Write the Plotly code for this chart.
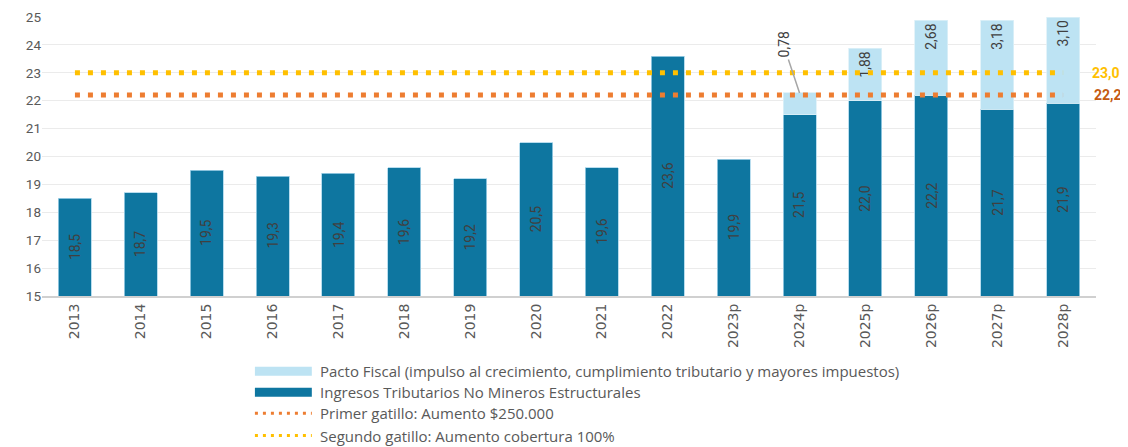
import plotly.graph_objects as go

categories = ["2013", "2014", "2015", "2016", "2017", "2018", "2019", "2020", "2021", "2022",
              "2023p", "2024p", "2025p", "2026p", "2027p", "2028p"]
ingresos = [18.5, 18.7, 19.5, 19.3, 19.4, 19.6, 19.2, 20.5, 19.6, 23.6,
            19.9, 21.5, 22.0, 22.2, 21.7, 21.9]
pacto = [None, None, None, None, None, None, None, None, None, None,
         None, 0.78, 1.88, 2.68, 3.18, 3.10]
primer_gatillo = [22.2] * len(categories)
segundo_gatillo = [23.0] * len(categories)
y_range = [15, 25]

legend_labels = [
    "Pacto Fiscal (impulso al crecimiento, cumplimiento tributario y mayores impuestos)",
    "Ingresos Tributarios No Mineros Estructurales",
    "Primer gatillo: Aumento $250.000",
    "Segundo gatillo: Aumento cobertura 100%",
]

DARK = "#0E76A0"
LIGHT = "#BDE3F3"
ORANGE = "#ED7D31"
YELLOW = "#FFC000"
FONT = "Roboto, Arial"
TXT = "#404040"

def fmt(v, d):
    return f"{v:.{d}f}".replace(".", ",")

fig = go.Figure()
fig.add_trace(go.Bar(
    x=categories, y=ingresos, name=legend_labels[1], marker_color=DARK,
    marker_line=dict(color="#A8D5EA", width=0.8), width=0.5,
    textposition="none", showlegend=False))

pacto_text = [("" if v is None else fmt(v, 2)) for v in pacto]
pacto_pos = ["none" if (v is None or v < 1) else "inside" for v in pacto]
fig.add_trace(go.Bar(
    x=categories, y=pacto, name=legend_labels[0], marker_color=LIGHT,
    marker_line=dict(color="#DDF0F8", width=0.8), width=0.5,
    text=pacto_text, textposition=pacto_pos, insidetextanchor="end",
    textangle=-90, constraintext="none", textfont=dict(color=TXT, size=14, family=FONT),
    showlegend=False))

fig.add_trace(go.Scatter(
    x=categories, y=primer_gatillo, mode="lines", name=legend_labels[2],
    line=dict(color=ORANGE, width=5, dash="5px,8px"), showlegend=False))
fig.add_trace(go.Scatter(
    x=categories, y=segundo_gatillo, mode="lines", name=legend_labels[3],
    line=dict(color=YELLOW, width=5, dash="5px,8px"), showlegend=False))

# labels of the dark bars, centred on the visible part of each bar (x = category index)
for i, v in enumerate(ingresos):
    fig.add_annotation(x=i, y=(y_range[0] + v) / 2, text=fmt(v, 1), textangle=-90,
                       showarrow=False, yanchor="middle",
                       font=dict(color=TXT, size=14, family=FONT))

# small outside label with leader line
for i, (base, v) in enumerate(zip(ingresos, pacto)):
    if v is not None and v < 1:
        fig.add_annotation(x=i, y=base + v, text=fmt(v, 2), textangle=-90,
                           showarrow=True, arrowhead=0, arrowwidth=1.5, arrowcolor="#A6A6A6",
                           ax=-16, ay=-48, font=dict(color=TXT, size=14, family=FONT))

# right-side labels of the thresholds
fig.add_annotation(xref="paper", x=1.0, xanchor="left", xshift=-6, y=segundo_gatillo[-1],
                   text=f"<b>{fmt(segundo_gatillo[-1], 1)}</b>", showarrow=False,
                   font=dict(color=YELLOW, size=14, family=FONT))
fig.add_annotation(xref="paper", x=1.0, xanchor="left", xshift=-4, y=primer_gatillo[-1],
                   text=f"<b>{fmt(primer_gatillo[-1], 1)}</b>", showarrow=False,
                   font=dict(color="#C55A11", size=14, family=FONT))

# custom legend
rows_y = [-0.27, -0.345, -0.42, -0.5]
sx0, sx1, tx = 0.202, 0.256, 0.262
for i, (lab, yy) in enumerate(zip(legend_labels, rows_y)):
    if i == 0:
        fig.add_shape(type="rect", xref="paper", yref="paper", x0=sx0, x1=sx1,
                      y0=yy - 0.016, y1=yy + 0.016, fillcolor=LIGHT, line_width=0)
    elif i == 1:
        fig.add_shape(type="rect", xref="paper", yref="paper", x0=sx0, x1=sx1,
                      y0=yy - 0.016, y1=yy + 0.016, fillcolor=DARK, line_width=0)
    else:
        col = ORANGE if i == 2 else YELLOW
        fig.add_shape(type="line", xref="paper", yref="paper", x0=sx0, x1=sx1,
                      y0=yy, y1=yy, line=dict(color=col, width=3, dash="3px,5px"))
    fig.add_annotation(xref="paper", yref="paper", x=tx, y=yy, xanchor="left",
                       yanchor="middle", text=lab, showarrow=False,
                       font=dict(color="#595959", size=15, family="Open Sans, Roboto"))

fig.update_layout(
    barmode="stack", width=1120, height=439, autosize=False, separators=",.",
    margin=dict(l=34, r=32, t=9, b=151, autoexpand=False),
    paper_bgcolor="white", plot_bgcolor="white",
    font=dict(family=FONT, color="#595959", size=13),
    xaxis=dict(type="category", range=[-0.5, len(categories) - 0.5],
               tickangle=-90, showgrid=False, showline=True,
               linecolor="#D0D0D0", linewidth=2, ticks="", automargin=False,
               tickfont=dict(size=14, color="#595959", family="DejaVu Sans, Roboto")),
    yaxis=dict(range=y_range, dtick=1, showgrid=True, gridcolor="#EBEBEB", gridwidth=1,
               zeroline=False, ticks="", automargin=False, ticklabeloverflow="allow",
               tickfont=dict(size=13.5, color="#595959")),
)

fig.write_html("out.html")
